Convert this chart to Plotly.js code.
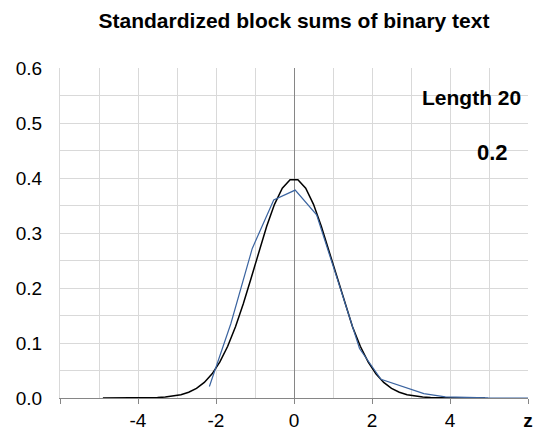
<!DOCTYPE html>
<html>
<head>
<meta charset="utf-8">
<script src="https://cdn.plot.ly/plotly-3.0.1.min.js"></script>
<style>html,body{margin:0;padding:0;background:#fff}#chart{width:539px;height:430px}</style>
</head>
<body>
<div id="chart"></div>
<script>
// Standard normal reference curve
const normalZ = [-4.9,-4.7,-4.5,-4.3,-4.1,-3.9,-3.7,-3.5,-3.3,-3.1,-2.9,-2.7,-2.5,-2.3,-2.1,-1.9,-1.7,-1.5,-1.3,-1.1,-0.9,-0.7,-0.5,-0.3,-0.1,
                 0.1,0.3,0.5,0.7,0.9,1.1,1.3,1.5,1.7,1.9,2.1,2.3,2.5,2.7,2.9,3.1,3.3,3.5,3.7,3.9,4.1,4.3,4.5,4.7,4.9];
const normalY = [0.000002,0.000006,0.000016,0.00004,0.00009,0.0002,0.00042,0.00087,0.0017,0.0033,0.006,0.0104,0.0175,0.0283,0.044,0.0656,0.094,0.1295,0.1714,0.2179,0.2661,0.3123,0.3521,0.3814,0.397,
                 0.397,0.3814,0.3521,0.3123,0.2661,0.2179,0.1714,0.1295,0.094,0.0656,0.044,0.0283,0.0175,0.0104,0.006,0.0033,0.0017,0.00087,0.00042,0.0002,0.00009,0.00004,0.000016,0.000006,0.000002];
// Observed standardized block sums (blue line)
const blockZ = [-2.17,-1.62,-1.07,-0.52,0.03,0.58,1.13,1.68,2.23,2.78,3.33,3.88,4.43,4.98,5.53,6.08];
const blockY = [0.021,0.135,0.272,0.360,0.378,0.333,0.212,0.090,0.034,0.021,0.008,0.002,0.0005,0.0001,0,0];
// Axis labels
const xTickVals = [-6,-4,-2,0,2,4,6];
const xTickText = ['','-4','-2','0','2','4','<b>z</b>'];
const yTickVals = [0,0.1,0.2,0.3,0.4,0.5,0.6];
const yTickText = ['0.0','0.1','0.2','0.3','0.4','0.5','0.6'];
const titleText = 'Standardized block sums of binary text';
const lengthLabel = 'Length 20';
const pLabel = '0.2';

const FONT = 'Arial, "Liberation Sans", sans-serif';
const grid = '#d9d9d9';
const axisCol = '#868686';

const traces = [
  {x: normalZ, y: normalY, mode: 'lines', line: {color: '#000000', width: 1.5}, hoverinfo: 'skip'},
  {x: blockZ, y: blockY, mode: 'lines', line: {color: '#3b64a0', width: 1.2}, hoverinfo: 'skip'}
];

const layout = {
  width: 539, height: 430,
  margin: {l: 60, r: 11, t: 68, b: 32},
  paper_bgcolor: '#ffffff', plot_bgcolor: '#ffffff',
  showlegend: false,
  font: {family: FONT, color: '#000000', size: 19},
  title: {text: '<b>' + titleText + '</b>', font: {family: FONT, size: 21, color: '#000'},
          x: 0.5, xref: 'paper', y: 0.953, yref: 'container', xanchor: 'center', yanchor: 'middle'},
  xaxis: {
    range: [-6, 6], tickmode: 'array', tickvals: xTickVals, ticktext: xTickText,
    showgrid: true, gridcolor: grid, gridwidth: 1,
    minor: {dtick: 1, tick0: 0, showgrid: true, gridcolor: grid, gridwidth: 1},
    zeroline: true, zerolinecolor: axisCol, zerolinewidth: 1,
    showline: true, linecolor: axisCol, linewidth: 1,
    ticks: 'outside', ticklen: 5, tickcolor: axisCol, tickwidth: 1,
    tickfont: {family: FONT, size: 19, color: '#000'}, fixedrange: true
  },
  yaxis: {
    range: [0, 0.6], tickmode: 'array', tickvals: yTickVals, ticktext: yTickText,
    showgrid: true, gridcolor: grid, gridwidth: 1,
    minor: {dtick: 0.05, tick0: 0, showgrid: true, gridcolor: grid, gridwidth: 1},
    zeroline: false, showline: true, linecolor: grid, linewidth: 1,
    ticks: '', ticklabelstandoff: 13,
    tickfont: {family: FONT, size: 19, color: '#000'}, fixedrange: true
  },
  annotations: [
    {text: '<b>' + lengthLabel + '</b>', x: 5.87, y: 0.547, xref: 'x', yref: 'y', xanchor: 'right', yanchor: 'middle',
     showarrow: false, font: {family: FONT, size: 21, color: '#000'}},
    {text: '<b>' + pLabel + '</b>', x: 5.53, y: 0.447, xref: 'x', yref: 'y', xanchor: 'right', yanchor: 'middle',
     showarrow: false, font: {family: FONT, size: 22, color: '#000'}}
  ]
};

Plotly.newPlot('chart', traces, layout, {displayModeBar: false, staticPlot: true});
</script>
</body>
</html>
